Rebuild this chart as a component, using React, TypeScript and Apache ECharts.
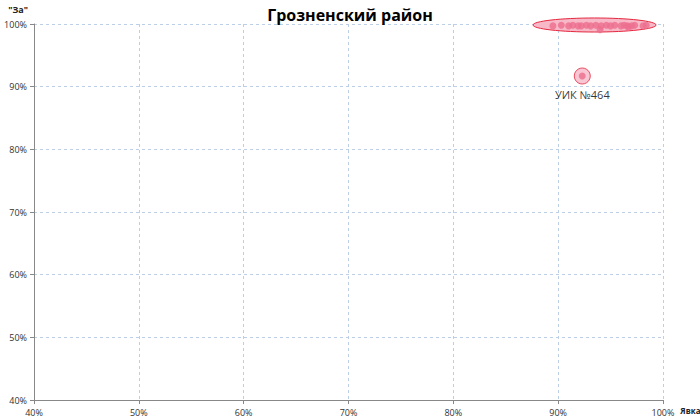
import React, { useEffect, useRef } from "react";
import * as echarts from "echarts";

const turnout = [89.5, 90.3, 91.0, 91.4, 91.9, 92.2, 92.7, 93.1, 93.6, 94.1, 94.6, 95.0, 95.4, 96.0, 96.3, 96.6, 97.0, 97.3, 98.1, 98.4, 94.0, 96.7];
const votesFor = [99.7, 99.8, 99.7, 99.8, 99.7, 99.7, 99.8, 99.7, 99.8, 99.7, 99.8, 99.7, 99.8, 99.7, 99.8, 99.7, 99.7, 99.8, 99.7, 99.8, 99.1, 99.5];
const outlierName = "УИК №464";
const outlier = [92.3, 91.7];
// annotation ellipse: center x, center y, radius x, radius y (data units, %)
const clusterEllipse = [93.47, 99.84, 5.87, 1.12];

const font = "'Open Sans', 'Noto Sans', sans-serif";

export default function App() {
  const ref = useRef<HTMLDivElement>(null);
  useEffect(() => {
    const chart = echarts.init(ref.current!, null, { renderer: "svg" });
    const points = turnout.map((x, i) => [x, votesFor[i]]);
    chart.setOption({
      animation: false,
      title: {
        text: "Грозненский район",
        left: "center",
        top: 2,
        textStyle: { fontFamily: font, fontSize: 16, fontWeight: "bold", color: "#000" },
      },
      grid: { left: 34, right: 37, top: 24, bottom: 20, outerBoundsMode: "none", containLabel: false },
      xAxis: {
        type: "value",
        min: 40,
        max: 100,
        interval: 10,
        name: "Явка",
        nameLocation: "end",
        nameGap: 3,
        nameTextStyle: { fontFamily: font, fontSize: 8, fontWeight: "bold", color: "#222", verticalAlign: "top", padding: [6, 0, 0, 0] },
        axisLine: { lineStyle: { color: "#888" } },
        axisTick: { show: true, length: 4, lineStyle: { color: "#888" } },
        axisLabel: { formatter: "{value}%", fontFamily: font, fontSize: 9, color: "#333", margin: 8 },
        splitLine: { show: true, lineStyle: { color: "#bccfe6", type: [3, 3] } },
      },
      yAxis: {
        type: "value",
        min: 40,
        max: 100,
        interval: 10,
        name: '"За"',
        nameLocation: "end",
        nameGap: 10,
        nameTextStyle: { fontFamily: font, fontSize: 9, fontWeight: "bold", color: "#222", align: "right", padding: [0, 6, 0, 0] },
        axisLine: { show: true, lineStyle: { color: "#888" } },
        axisTick: { show: true, length: 4, lineStyle: { color: "#888" } },
        axisLabel: { formatter: "{value}%", fontFamily: font, fontSize: 9, color: "#333", margin: 7 },
        splitLine: { show: true, lineStyle: { color: "#bccfe6", type: [3, 3] } },
      },
      series: [
        {
          type: "custom",
          clip: false,
          z: 1,
          data: [clusterEllipse],
          renderItem: (params: any, api: any) => {
            const c = api.coord([api.value(0), api.value(1)]);
            const s = api.size([api.value(2), api.value(3)]);
            return {
              type: "ellipse",
              shape: { cx: c[0], cy: c[1], rx: s[0], ry: s[1] },
              style: { fill: "#f7b8c8", stroke: "#e6283f", lineWidth: 1 },
            };
          },
        },
        {
          type: "scatter",
          z: 2,
          symbol: "circle",
          symbolSize: 16,
          itemStyle: { color: "#f7b8c8", borderColor: "#e6283f", borderWidth: 1 },
          label: {
            show: true,
            position: "bottom",
            distance: 4,
            formatter: outlierName,
            fontFamily: font,
            fontSize: 11,
            color: "#000",
          },
          data: [outlier],
        },
        {
          type: "scatter",
          z: 3,
          symbol: "circle",
          symbolSize: 7,
          itemStyle: { color: "#ec6e8e" },
          data: [...points, outlier],
        },
      ],
    });
    return () => chart.dispose();
  }, []);
  return <div ref={ref} style={{ width: 700, height: 420, position: "absolute", left: 0, top: 0 }} />;
}
